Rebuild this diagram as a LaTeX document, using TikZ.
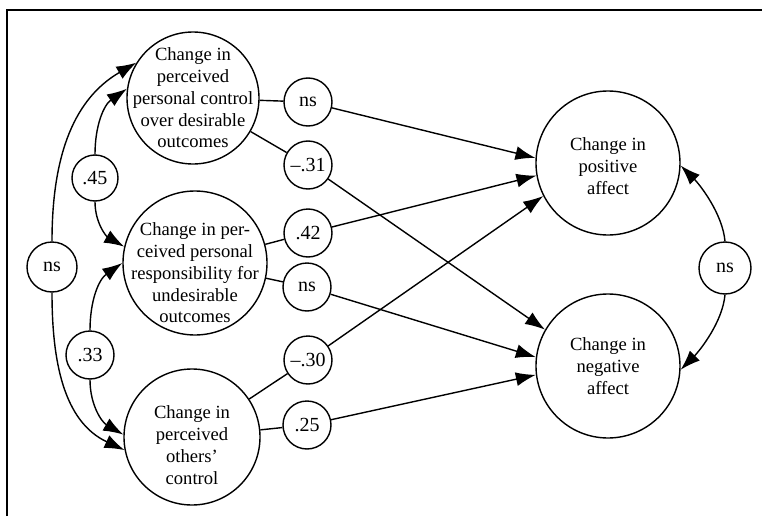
\documentclass[tikz,border=0pt]{standalone}
\usepackage{fontspec}
\setmainfont{Liberation Serif}
\usepackage{xcolor}
\usepackage{tikz}
\usetikzlibrary{arrows.meta}

\tikzset{
  every node/.style={font=\fontsize{9.3}{10.9}\selectfont},
  bigc/.style={draw, circle, inner sep=0pt, line width=0.7pt},
  txt/.style={align=center, inner sep=0pt},
  coef/.style={draw, circle, inner sep=0pt, minimum size=24pt, line width=0.7pt, font=\fontsize{10}{12}\selectfont},
}

\begin{document}
\begin{tikzpicture}[x=0.5pt, y=0.5pt, line width=0.7pt, >={Latex[length=10pt,width=7pt]}]
\useasboundingbox (0,0) rectangle (762,516);
\draw (7,0) -- (7,506) -- (762,506);

% predictors
\node[bigc, minimum size=66pt, label={[txt]center:{Change in\\perceived\\personal control\\over desirable\\outcomes}}] (c1) at (193,418) {};
\node[bigc, minimum size=72pt, label={[txt, yshift=-5pt]center:{Change in per-\\ceived personal\\responsibility for\\undesirable\\outcomes}}] (c2) at (195,253) {};
\node[bigc, minimum size=68pt, label={[txt, yshift=-4pt]center:{Change in\\perceived\\others'\\control}}] (c3) at (192,79) {};
% outcomes
\node[bigc, minimum size=72pt, label={[txt, yshift=-1.5pt]center:{Change in\\positive\\affect}}] (pos) at (608,353) {};
\node[bigc, minimum size=72pt, label={[txt]center:{Change in\\negative\\affect}}] (neg) at (608,150) {};

% correlations
\node[coef, minimum size=25pt] (nsL) at (52,249) {ns};
\node[coef, minimum size=23pt] (r45) at (95,338) {.45};
\node[coef] (r33) at (90,161) {.33};
\node[coef, minimum size=26pt] (nsR) at (725,248) {ns};

\draw[->] (nsL.north) to[out=90, in=210] (c1.148);
\draw[->] (nsL.south) to[out=-90, in=155] (c3.191);
\draw[->] (r45.north) to[out=90, in=215] (c1.172);
\draw[->] (r45.south) to[out=-90, in=150] (c2.167);
\draw[->] (r33.north) to[out=90, in=215] (c2.180);
\draw[->] (r33.south) to[out=-90, in=150] (c3.178);
\draw[->] (nsR.north) to[out=95, in=-45, looseness=0.8] (pos.-2);
\draw[->] (nsR.south) to[out=-95, in=45, looseness=0.8] (neg.-3);

% paths
\foreach \n/\x/\y/\t in {p1/308/414/ns, p2/308/351/--.31, p3/308/283/.42,
                         p4/307/229/ns, p5/308/156/--.30, p6/307/91/.25} {
  \node[coef] (\n) at (\x,\y) {\t};
}
\foreach \a/\b in {c1/p1, c1/p2, c2/p3, c2/p4, c3/p5, c3/p6}
  \draw (\a) -- (\b);
\foreach \a/\b/\ang in {p1/pos/176, p2/neg/150, p3/pos/190,
                        p4/neg/173, p5/pos/207, p6/neg/187}
  \draw[->] (\a) -- (\b.\ang);
\end{tikzpicture}
\end{document}
